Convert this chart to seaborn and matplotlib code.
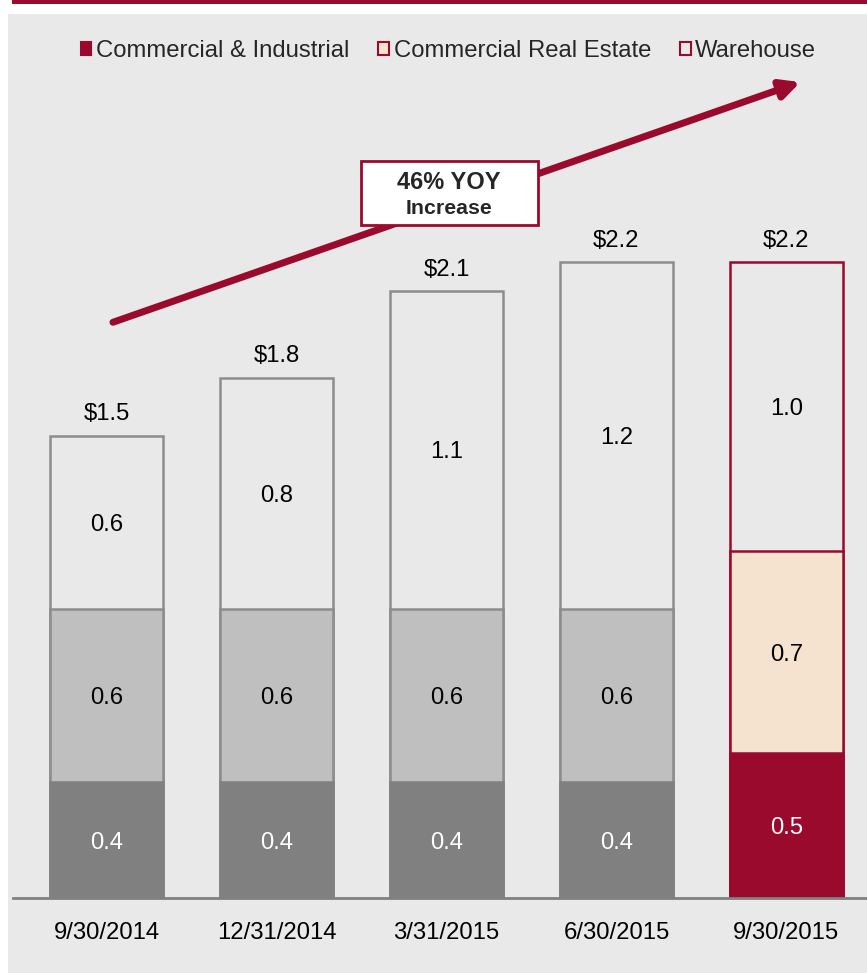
import pandas as pd
import matplotlib.pyplot as plt
from matplotlib.patches import Patch, Rectangle
import seaborn as sns

# ------------------------
# Data (values in $ billions)
# ------------------------
PERIODS = ["9/30/2014", "12/31/2014", "3/31/2015", "6/30/2015", "9/30/2015"]
CI_VALUES = [0.4, 0.4, 0.4, 0.4, 0.5]          # Commercial & Industrial
CRE_VALUES = [0.6, 0.6, 0.6, 0.6, 0.7]         # Commercial Real Estate
WAREHOUSE_VALUES = [0.6, 0.8, 1.1, 1.2, 1.0]   # Warehouse
TOTAL_LABELS = ["$1.5", "$1.8", "$2.1", "$2.2", "$2.2"]
SERIES_NAMES = ["Commercial & Industrial", "Commercial Real Estate", "Warehouse"]

# ------------------------
# Colours
# ------------------------
MAROON = "#990a2c"
PEACH = "#f5e2cf"
DARK_GRAY = "#808080"
LIGHT_GRAY = "#bfbfbf"
PANEL = "#e9e9e9"
EDGE_GRAY = "#8c8c8c"
FS = 17.2

sns.set_style("white")
plt.rcParams["font.family"] = ["Liberation Sans", "DejaVu Sans"]

W, H = 867, 973
fig = plt.figure(figsize=(W / 100, H / 100), dpi=100, facecolor="white")

# background panel + top stripe
fig.patches.append(Rectangle((8 / W, 0), 1, (H - 14) / H, transform=fig.transFigure,
                             facecolor=PANEL, edgecolor="none", zorder=-10))
fig.patches.append(Rectangle((12 / W, (H - 4) / H), 1, 4 / H, transform=fig.transFigure,
                             facecolor=MAROON, edgecolor="none", zorder=-10))

ax = fig.add_axes([13 / W, (H - 898) / H, 1 - 13 / W, (898 - 15) / H])
ax.set_facecolor("none")

df = pd.DataFrame({"period": PERIODS, "ci": CI_VALUES,
                   "cre": CRE_VALUES, "wh": WAREHOUSE_VALUES})
df["lvl1"] = df["ci"]
df["lvl2"] = df["ci"] + df["cre"]
df["lvl3"] = df["lvl2"] + df["wh"]

# layers drawn from the top down so lower segments overlay upper ones
layers = [
    ("lvl3", [PANEL] * 5, [EDGE_GRAY] * 4 + [MAROON]),
    ("lvl2", [LIGHT_GRAY] * 4 + [PEACH], [EDGE_GRAY] * 4 + [MAROON]),
    ("lvl1", [DARK_GRAY] * 4 + [MAROON], [DARK_GRAY] * 4 + [MAROON]),
]
for col, fills, edges in layers:
    n0 = len(ax.patches)
    sns.barplot(data=df, x="period", y=col, hue="period", palette=fills,
                saturation=1, width=0.665, legend=False, ax=ax, linewidth=1.8)
    for p, ec in zip(ax.patches[n0:], edges):
        p.set_edgecolor(ec)

# segment labels
for i, row in df.iterrows():
    ax.text(i, row["lvl1"] / 2, f"{row['ci']:.1f}", ha="center",
            va="center_baseline", color="white", fontsize=FS)
    ax.text(i, row["lvl1"] + row["cre"] / 2, f"{row['cre']:.1f}", ha="center",
            va="center_baseline", color="black", fontsize=FS)
    ax.text(i, row["lvl2"] + row["wh"] / 2, f"{row['wh']:.1f}", ha="center",
            va="center_baseline", color="black", fontsize=FS)
    ax.text(i, row["lvl3"] + 0.083, TOTAL_LABELS[i], ha="center",
            va="center_baseline", color="black", fontsize=FS)

ax.set_xlim(-0.55, 4.474)
ax.set_ylim(0, 3.055)
ax.set_xlabel("")
ax.set_ylabel("")
ax.set_yticks([])
ax.tick_params(axis="x", length=0, pad=17, labelsize=FS, colors="black")
for s in ["top", "left", "right"]:
    ax.spines[s].set_visible(False)
ax.spines["bottom"].set_color(DARK_GRAY)
ax.spines["bottom"].set_linewidth(2)
ax.spines["bottom"].set_zorder(5)

# growth arrow + callout box
ax.annotate("", xy=(0.922, 0.924), xytext=(0.117, 0.652), xycoords="axes fraction",
            arrowprops=dict(arrowstyle="-|>", color=MAROON, lw=5,
                            mutation_scale=28, shrinkA=0, shrinkB=0))
ax.add_patch(Rectangle((0.4075, 0.762), 0.2073, 0.0725, transform=ax.transAxes,
                       facecolor="white", edgecolor=MAROON, lw=2, zorder=6))
ax.text(0.5105, 0.81, "46% YOY", transform=ax.transAxes, ha="center", va="center",
        fontsize=17, fontweight="bold", zorder=7)
ax.text(0.5105, 0.781, "Increase", transform=ax.transAxes, ha="center", va="center",
        fontsize=15.3, fontweight="bold", zorder=7)

# legend
handles = [
    Patch(facecolor=MAROON, edgecolor=MAROON, lw=1.5),
    Patch(facecolor=PEACH, edgecolor=MAROON, lw=1.5),
    Patch(facecolor=PANEL, edgecolor=MAROON, lw=1.5),
]
ax.legend(handles, SERIES_NAMES, loc="center", bbox_to_anchor=(0.51, 0.959),
          ncol=3, frameon=False, fontsize=FS, handlelength=0.45,
          handleheight=0.45, handletextpad=0.2, columnspacing=1.2)

fig.savefig("out.png", dpi=100, facecolor="white")
